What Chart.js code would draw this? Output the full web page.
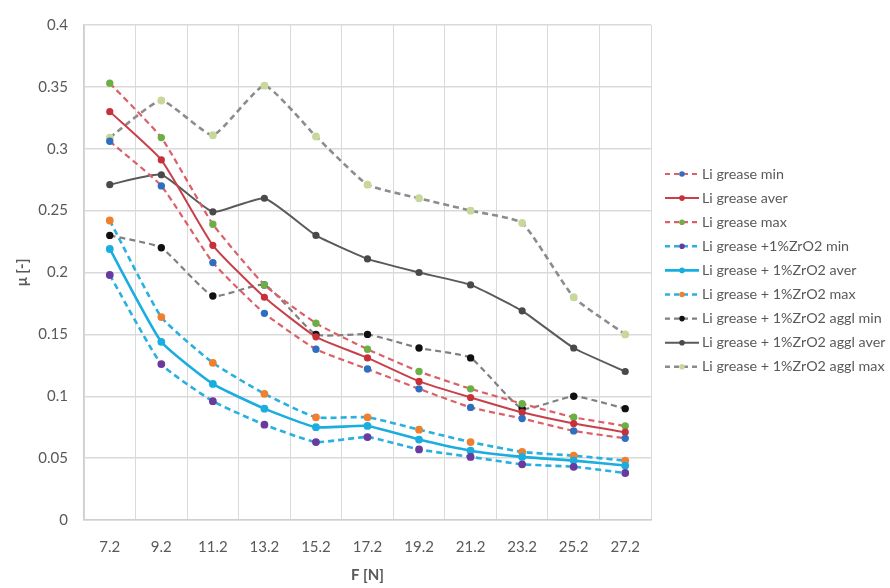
<!DOCTYPE html>
<html>
<head>
<meta charset="utf-8">
<script src="https://cdn.jsdelivr.net/npm/chart.js@4"></script>
<style>
  html, body { margin: 0; padding: 0; background: #fff; }
  #wrap { width: 890px; height: 588px; position: relative; }
</style>
</head>
<body>
<div id="wrap"><canvas id="myChart"></canvas></div>
<script>
const loads = ['7.2', '9.2', '11.2', '13.2', '15.2', '17.2', '19.2', '21.2', '23.2', '25.2', '27.2'];

const liMin = [0.306, 0.270, 0.208, 0.167, 0.138, 0.122, 0.106, 0.091, 0.082, 0.072, 0.066];
const liAver = [0.330, 0.291, 0.222, 0.180, 0.148, 0.131, 0.112, 0.099, 0.087, 0.078, 0.071];
const liMax = [0.353, 0.309, 0.239, 0.190, 0.159, 0.138, 0.120, 0.106, 0.094, 0.083, 0.076];

const zrMin = [0.198, 0.126, 0.096, 0.077, 0.063, 0.067, 0.057, 0.051, 0.045, 0.043, 0.038];
const zrAver = [0.219, 0.144, 0.110, 0.090, 0.075, 0.076, 0.065, 0.056, 0.051, 0.048, 0.044];
const zrMax = [0.242, 0.164, 0.127, 0.102, 0.083, 0.083, 0.073, 0.063, 0.055, 0.052, 0.048];

const agglMin = [0.230, 0.220, 0.181, 0.190, 0.150, 0.150, 0.139, 0.131, 0.090, 0.100, 0.090];
const agglAver = [0.271, 0.279, 0.249, 0.260, 0.230, 0.211, 0.200, 0.190, 0.169, 0.139, 0.120];
const agglMax = [0.309, 0.339, 0.311, 0.351, 0.310, 0.271, 0.260, 0.250, 0.240, 0.180, 0.150];

const yTicks = ['0', '0.05', '0.1', '0.15', '0.2', '0.25', '0.3', '0.35', '0.4'];

const FONT = 'Lato, "Open Sans", sans-serif';
const TEXT = '#595959';

function series(label, data, line, dot, dashed, width) {
  return {
    label: label,
    data: data,
    borderColor: line,
    backgroundColor: dot,
    pointBackgroundColor: dot,
    pointBorderColor: dot,
    pointRadius: 2.6,
    pointHoverRadius: 2.6,
    borderWidth: width,
    borderDash: dashed ? [6, 4] : [],
    tension: 0.15,
    fill: false
  };
}

// legend drawn by hand so each entry gets the line sample with its dot
const sideLegend = {
  id: 'sideLegend',
  afterDraw(chart) {
    const ctx = chart.ctx;
    const x0 = 665;
    const y0 = 174;
    const step = 24.1;
    ctx.save();
    chart.data.datasets.forEach((ds, i) => {
      const y = y0 + i * step;
      ctx.strokeStyle = ds.borderColor;
      ctx.lineWidth = ds.borderWidth;
      ctx.setLineDash(ds.borderDash.length ? [5, 4] : []);
      ctx.beginPath();
      ctx.moveTo(x0, y);
      ctx.lineTo(x0 + 34, y);
      ctx.stroke();
      ctx.setLineDash([]);
      ctx.fillStyle = ds.pointBackgroundColor;
      ctx.beginPath();
      ctx.arc(x0 + 17, y, 2.8, 0, Math.PI * 2);
      ctx.fill();
      ctx.fillStyle = TEXT;
      ctx.font = '14.3px ' + FONT;
      ctx.textBaseline = 'middle';
      ctx.fillText(ds.label, x0 + 37, y);
    });
    ctx.restore();
  }
};

const data = {
  labels: loads,
  datasets: [
    series('Li grease min', liMin, '#DC6068', '#2E6FC0', true, 2.2),
    series('Li grease aver', liAver, '#C8404A', '#C8303A', false, 2),
    series('Li grease max', liMax, '#DC6068', '#6BAF45', true, 2.2),
    series('Li grease +1%ZrO2 min', zrMin, '#28B0E0', '#6A3A9E', true, 2.6),
    series('Li grease + 1%ZrO2 aver', zrAver, '#1AAEE0', '#1AAEE0', false, 2.6),
    series('Li grease + 1%ZrO2 max', zrMax, '#28B0E0', '#F08030', true, 2.6),
    series('Li grease + 1%ZrO2 aggl min', agglMin, '#808080', '#111111', true, 2.2),
    series('Li grease + 1%ZrO2 aggl aver', agglAver, '#5A5A5A', '#4A4A4A', false, 2),
    series('Li grease + 1%ZrO2 aggl max', agglMax, '#8C8C8C', '#C8D89A', true, 2.6)
  ]
};

const config = {
  type: 'line',
  data: data,
  options: {
    responsive: true,
    maintainAspectRatio: false,
    animation: false,
    layout: { padding: { left: 6, right: 239, top: 21, bottom: 0 } },
    plugins: {
      legend: { display: false },
      tooltip: { enabled: false }
    },
    scales: {
      x: {
        offset: true,
        grid: { offset: true, color: '#DADADA', lineWidth: 1, drawTicks: false },
        border: { color: '#CFCFCF', width: 1.5 },
        ticks: { color: TEXT, font: { family: FONT, size: 15 }, padding: 18, maxRotation: 0 },
        title: { display: true, text: 'F [N]', color: TEXT, font: { family: FONT, size: 15, weight: 'bold' }, padding: { top: 0, bottom: 4 } },
        afterFit: (scale) => { scale.height = 68; }
      },
      y: {
        min: 0,
        max: 0.4,
        grid: { color: '#DADADA', lineWidth: 1.5, drawTicks: false },
        border: { color: '#CFCFCF', width: 1.5 },
        ticks: {
          stepSize: 0.05,
          color: TEXT,
          font: { family: FONT, size: 15 },
          padding: 16,
          callback: (value, index) => yTicks[index]
        },
        title: { display: true, text: 'μ [-]', color: TEXT, font: { family: FONT, size: 15, weight: 'bold' }, padding: { top: 7, bottom: 0 } },
        afterFit: (scale) => { scale.width = 78; }
      }
    }
  },
  plugins: [sideLegend]
};

document.addEventListener('DOMContentLoaded', () => {
  new Chart(document.querySelector('#myChart'), config);
});
</script>
</body>
</html>
